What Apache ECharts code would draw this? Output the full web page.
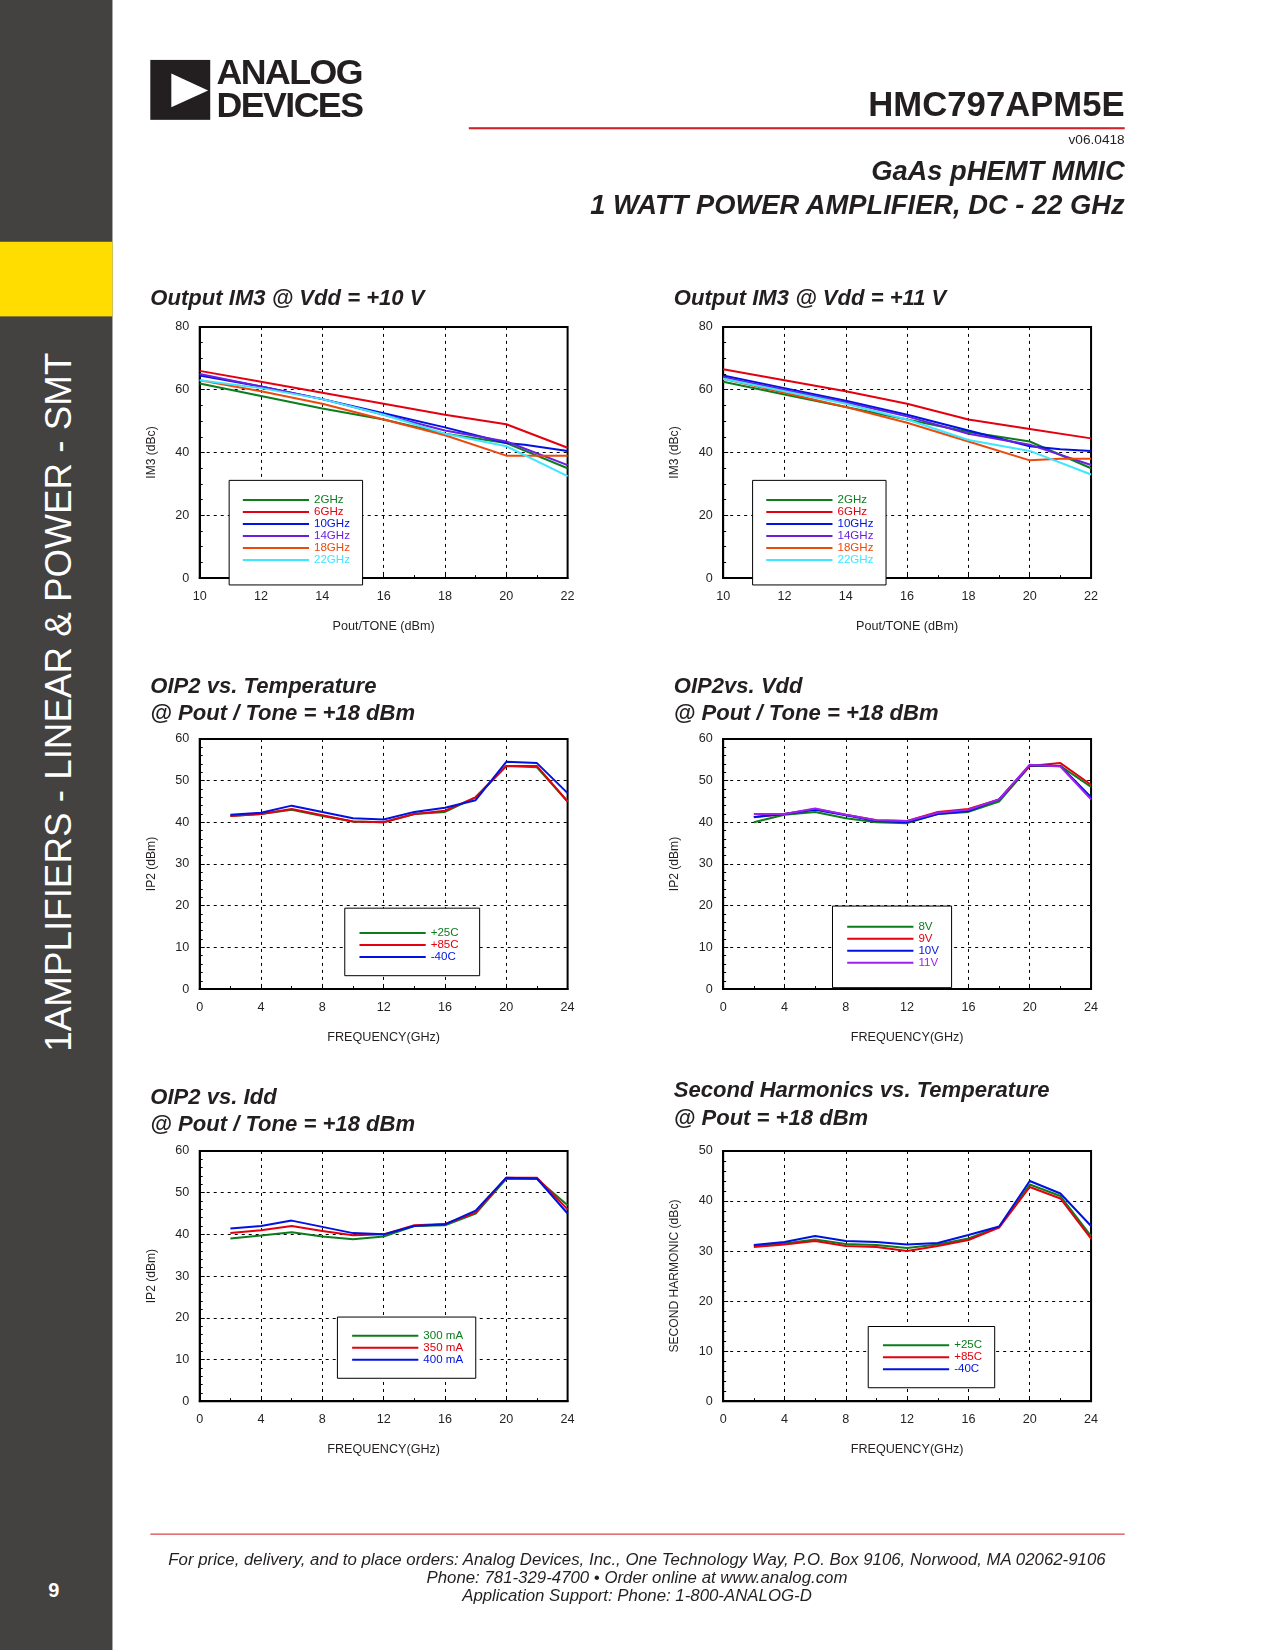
<!DOCTYPE html>
<html><head><meta charset="utf-8">
<script src="https://cdn.jsdelivr.net/npm/echarts@6/dist/echarts.min.js"></script>
<style>
body{margin:0;width:1275px;height:1650px;position:relative;font-family:"Liberation Sans",Arial,sans-serif;background:#fff;overflow:hidden}
#w{position:absolute;left:0;top:0;width:1213px;height:1570px;transform:scale(1.05112);transform-origin:0 0}
#c{position:absolute;left:0;top:0;width:1275px;height:1650px}
.t{position:absolute;z-index:2;color:#231f20;white-space:nowrap}
.h{font-weight:bold;font-style:italic;font-size:21px;line-height:26px}
</style></head><body>
<div id="w">
<div style="position:absolute;left:0;top:0;width:107px;height:1570px;background:#434240"></div>
<div style="position:absolute;left:0;top:230px;width:107px;height:71px;background:#ffdd00"></div>
<div class="t" style="left:56px;top:668px;transform:translate(-50%,-50%) rotate(-90deg);color:#fff;font-size:35px">1AMPLIFIERS - LINEAR &amp; POWER - SMT</div>
<div class="t" style="left:46px;top:1502px;color:#fff;font-weight:bold;font-size:19px">9</div>
<div style="position:absolute;left:143px;top:57px;width:57px;height:57px;background:#231f20"></div>
<div style="position:absolute;left:163px;top:70px;width:0;height:0;border-top:16px solid transparent;border-bottom:16px solid transparent;border-left:35px solid #fff"></div>
<div class="t" style="left:206px;top:53px;font-weight:bold;font-size:34px;line-height:31px;letter-spacing:-1.5px">ANALOG<br>DEVICES</div>
<div class="t" style="right:143px;top:80px;font-weight:bold;font-size:33px">HMC797APM5E</div>
<div style="position:absolute;left:446px;top:121px;width:624px;height:2px;background:#d2232a"></div>
<div class="t" style="right:143px;top:125px;font-size:13px">v06.0418</div>
<div class="t h" style="right:143px;top:146px;font-size:26px;line-height:33px;text-align:right">GaAs pHEMT MMIC<br>1 WATT POWER AMPLIFIER, DC - 22 GHz</div>
<div class="t h" style="left:143px;top:270px">Output IM3 @ Vdd = +10 V</div>
<div class="t h" style="left:641px;top:270px">Output IM3 @ Vdd = +11 V</div>
<div class="t h" style="left:143px;top:639px">OIP2 vs. Temperature<br>@ Pout / Tone = +18 dBm</div>
<div class="t h" style="left:641px;top:639px">OIP2vs. Vdd<br>@ Pout / Tone = +18 dBm</div>
<div class="t h" style="left:143px;top:1030px">OIP2 vs. Idd<br>@ Pout / Tone = +18 dBm</div>
<div class="t h" style="left:641px;top:1024px">Second Harmonics vs. Temperature<br>@ Pout = +18 dBm</div>
<div style="position:absolute;left:143px;top:1459px;width:927px;height:1px;background:#d2232a"></div>
<div class="t" style="left:606px;top:1475px;transform:translateX(-50%);text-align:center;font-style:italic;font-size:16px;line-height:17px">For price, delivery, and to place orders: Analog Devices, Inc., One Technology Way, P.O. Box 9106, Norwood, MA 02062-9106<br>Phone: 781-329-4700 • Order online at www.analog.com<br>Application Support: Phone: 1-800-ANALOG-D</div>
</div>
<div id="c"></div>
<script>
// ---- data ----
const pout = [10,12,14,16,18,20,22];
const freq = [2,4,6,8,10,12,14,16,18,20,22,24];
const im3_10 = {
  '2GHz':[[10,62],[12,58],[14,54],[16,50.5],[18,46],[20,43],[22,35]],
  '6GHz':[[10,66],[12,62.5],[14,59],[16,55.5],[18,52],[20,49],[22,41.5]],
  '10GHz':[[10,64.5],[12,61],[14,57],[16,52.5],[18,48],[20,43],[20.6,42.5],[22,40.5]],
  '14GHz':[[10,65],[12,61],[14,57],[16,52],[18,47],[20,43.5],[22,36]],
  '18GHz':[[10,63],[12,59.5],[14,55.5],[16,50.5],[18,45.5],[20,39],[22,39]],
  '22GHz':[[10,63],[12,60.5],[14,57],[16,52],[18,46],[20,42],[22,32.5]]
};
const im3_11 = {
  '2GHz':[[10,62.5],[12,58.5],[14,54.5],[16,50.5],[18,46.5],[20,43.5],[22,35]],
  '6GHz':[[10,66.5],[12,63],[14,59.5],[16,55.5],[18,50.5],[20,47.5],[22,44.5]],
  '10GHz':[[10,64.5],[12,60.5],[14,56.5],[16,52],[18,47],[20,42],[21,41],[22,40.5]],
  '14GHz':[[10,64],[12,60],[14,56],[16,51.5],[18,46],[20,42.5],[22,36]],
  '18GHz':[[10,63.5],[12,59],[14,54.5],[16,49.5],[18,43.5],[20,37.5],[21,38],[22,38]],
  '22GHz':[[10,63.5],[12,59.5],[14,55.5],[16,50.5],[18,44],[20,40.5],[22,33]]
};
const oip2Temp = {
  '+25C':[41.5,42,43,41.5,40.2,40,42,42.5,46,53.5,53.2,45],
  '+85C':[41.5,42,43.2,41.7,40.2,40,42,42.8,46,53.5,53.5,45],
  '-40C':[41.8,42.3,44,42.5,41,40.7,42.5,43.5,45.3,54.5,54.2,47]
};
const oip2Vdd = {
  '8V':[40,41.8,42.5,41,40,39.8,42,42.5,45,53.5,53.5,48.5],
  '9V':[41.2,42,43.2,41.8,40.5,40.3,42.5,43.2,45.5,53.5,54.2,49],
  '10V':[41.3,42,43,41.7,40.3,40,42,42.7,45.5,53.7,53.5,46],
  '11V':[42,42,43.3,41.8,40.5,40.3,42.3,43,45.5,53.8,53.4,45.5]
};
const oip2Idd = {
  '300 mA':[39,39.7,40.5,39.5,38.8,39.5,42,42.2,45,53.3,53.3,47],
  '350 mA':[40.3,41,42,40.8,39.8,40,42.2,42.5,45.2,53.6,53.6,46],
  '400 mA':[41.4,42,43.3,41.8,40.3,40,42,42.4,45.7,53.6,53.4,45]
};
const harm2 = {
  '+25C':[31,31.5,32.3,31.4,31.2,30.6,31.3,32.5,34.8,43.3,41,33],
  '+85C':[30.8,31.3,32,31,30.8,30,31,32.2,34.7,42.8,40.5,32.5],
  '-40C':[31.2,31.8,33,32,31.8,31.3,31.6,33.2,34.9,44,41.5,35]
};
// ---- styles ----
const S = 1.05112;
const C = {g:'#0b7d1c',r:'#e3000f',b:'#0012e0',p:'#6a1ee0',o:'#ec4a0c',c:'#3fe6ff',v:'#a020f0'};
const imCol = {'2GHz':C.g,'6GHz':C.r,'10GHz':C.b,'14GHz':C.p,'18GHz':C.o,'22GHz':C.c};
const grids = [
  [190,311,350,239],[688,311,350,239],[190,703,350,238],[688,703,350,238],[190,1095,350,238],[688,1095,350,238]
].map(a=>({left:a[0]*S,top:a[1]*S,width:a[2]*S,height:a[3]*S}));
const lab = {color:'#231f20',fontSize:12*S,fontFamily:'Liberation Sans'};
function xa(i,min,max,iv,name){return {gridIndex:i,type:'value',min,max,interval:iv,name,nameLocation:'middle',nameGap:40*S,
  nameTextStyle:{color:'#231f20',fontSize:12*S},axisLabel:Object.assign({margin:11*S},lab),
  axisLine:{lineStyle:{color:'#000',width:2}},axisTick:{inside:true,length:5,lineStyle:{color:'#000'}},
  minorTick:{show:true,splitNumber:2,length:3,lineStyle:{color:'#000'}},
  splitLine:{show:true,lineStyle:{color:'#000',type:[3,4],width:1}}};}
function ya(i,max,iv,name,ms){return {gridIndex:i,type:'value',min:0,max,interval:iv,name,nameLocation:'middle',nameGap:40*S,
  nameTextStyle:{color:'#231f20',fontSize:11.5*S},axisLabel:Object.assign({margin:10*S},lab),
  axisLine:{lineStyle:{color:'#000',width:2}},axisTick:{inside:true,length:5,lineStyle:{color:'#000'}},
  minorTick:{show:true,splitNumber:ms,length:3,lineStyle:{color:'#000'}},
  splitLine:{show:true,lineStyle:{color:'#000',type:[3,4],width:1}}};}
const series=[], legends=[];
function addSet(i,obj,cols,pairs,box){
  const names=Object.keys(obj);
  names.forEach(n=>{
    const d = pairs ? obj[n] : freq.map((f,k)=>[f,obj[n][k]]);
    series.push({type:'line',name:n,xAxisIndex:i,yAxisIndex:i,data:d,symbol:'none',
      lineStyle:{color:cols[n],width:2},itemStyle:{color:cols[n]},animation:false});
  });
  legends.push({left:box.l*S,top:box.t*S,width:box.w*S,orient:'vertical',itemGap:0,itemWidth:63*S,itemHeight:2,icon:'rect',
    padding:box.p.map(v=>v*S),borderColor:'#000',borderWidth:1,backgroundColor:'#fff',selectedMode:false,align:'left',
    data:names.map(n=>({name:n,textStyle:{color:cols[n],fontSize:11*S,lineHeight:9.5*S}}))});
}
addSet(0,im3_10,imCol,true,{l:218,t:457,w:132,p:[13,12,18,13]});
addSet(1,im3_11,imCol,true,{l:716,t:457,w:129,p:[13,12,18,13]});
addSet(2,oip2Temp,{'+25C':C.g,'+85C':C.r,'-40C':C.b},false,{l:328,t:864,w:132,p:[18,20,12,14]});
addSet(3,oip2Vdd,{'8V':C.g,'9V':C.r,'10V':C.b,'11V':C.v},false,{l:792,t:862,w:113,p:[14,12,18,14]});
addSet(4,oip2Idd,{'300 mA':C.g,'350 mA':C.r,'400 mA':C.b},false,{l:321,t:1253,w:134,p:[12,12,12,14]});
addSet(5,harm2,{'+25C':C.g,'+85C':C.r,'-40C':C.b},false,{l:826,t:1262,w:120,p:[12,12,12,14]});
const chart = echarts.init(document.getElementById('c'));
chart.setOption({animation:false,
  grid:grids.map(g=>Object.assign({show:true,borderColor:'#000',borderWidth:2,backgroundColor:'transparent'},g)),
  xAxis:[xa(0,10,22,2,'Pout/TONE (dBm)'),xa(1,10,22,2,'Pout/TONE (dBm)'),
    xa(2,0,24,4,'FREQUENCY(GHz)'),xa(3,0,24,4,'FREQUENCY(GHz)'),xa(4,0,24,4,'FREQUENCY(GHz)'),xa(5,0,24,4,'FREQUENCY(GHz)')],
  yAxis:[ya(0,80,20,'IM3 (dBc)',4),ya(1,80,20,'IM3 (dBc)',4),ya(2,60,10,'IP2 (dBm)',5),ya(3,60,10,'IP2 (dBm)',5),
    ya(4,60,10,'IP2 (dBm)',5),ya(5,50,10,'SECOND HARMONIC (dBc)',5)],
  legend:legends,series});
</script></body></html>
